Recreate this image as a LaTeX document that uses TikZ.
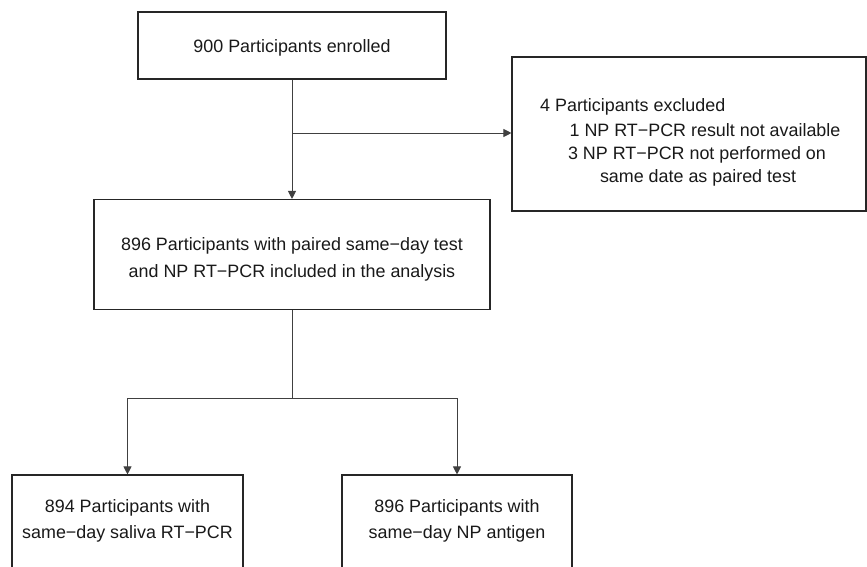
\documentclass[tikz,border=0pt]{standalone}
\usepackage{fontspec}
\setmainfont{Liberation Sans}
\usetikzlibrary{arrows.meta}
\begin{document}
\begin{tikzpicture}[x=1pt,y=-1pt,
  box/.style={draw=black!85, line width=1.1pt, rectangle, inner sep=0pt},
  txt/.style={font=\fontsize{17.9}{22}\selectfont, inner sep=0pt, anchor=base, text=black!90},
  conn/.style={draw=black!75, line width=0.9pt},
  arr/.style={conn, -{Triangle[length=8pt,width=8pt]}}]
\useasboundingbox (0,0) rectangle (867,567);
\clip (0,0) rectangle (867,567);
% boxes
\node[box, minimum width=308pt, minimum height=67pt] (enr) at (292,45.5) {};
\node[box, minimum width=354pt, minimum height=154pt] (exc) at (689,134) {};
\node[box, minimum width=396pt, minimum height=110pt] (inc) at (292,254.5) {};
\node[box, minimum width=231pt, minimum height=110pt] (sal) at (127.5,530) {};
\node[box, minimum width=230pt, minimum height=110pt] (ant) at (457,530) {};
% texts
\node[txt] (t1) at (292,53) {900 Participants enrolled};
\node[txt, anchor=base west] (t2a) at (540,112) {4 Participants excluded};
\node[txt] (t2b) at (705,136.5) {1 NP RT−PCR result not available};
\node[txt] (t2c) at (697,159.5) {3 NP RT−PCR not performed on};
\node[txt] (t2d) at (698,182) {same date as paired test};
\node[txt] (t3a) at (292,250) {896 Participants with paired same−day test};
\node[txt] (t3b) at (292,277) {and NP RT−PCR included in the analysis};
\node[txt] (t4a) at (127.5,512) {894 Participants with};
\node[txt] (t4b) at (127.5,538) {same−day saliva RT−PCR};
\node[txt] (t5a) at (457,512) {896 Participants with};
\node[txt] (t5b) at (457,538) {same−day NP antigen};
% connectors
\coordinate (br) at (292,133);
\coordinate (sp) at (292,398);
\coordinate (sl) at (127.5,398);
\coordinate (sr) at (457,398);
\draw[arr] (enr.south) -- (inc.north);
\draw[arr] (br) -- (br -| exc.west);
\draw[conn] (inc.south) -- (sp);
\draw[conn] (sl) -- (sr);
\draw[arr] (sl) -- (sal.north);
\draw[arr] (sr) -- (ant.north);
\end{tikzpicture}
\end{document}
